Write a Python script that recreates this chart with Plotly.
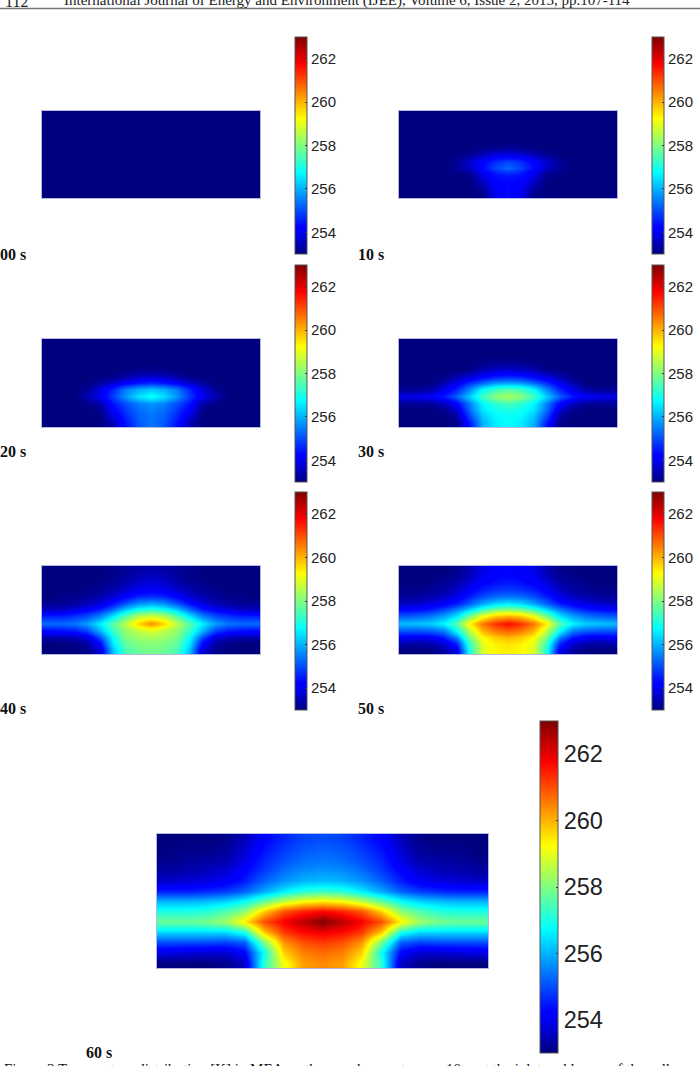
import plotly.graph_objects as go

# Temperature [K] on the membrane plane; each row runs from the centre column
# outwards and the field is mirrored about the centre. Row 0 is the top edge.
T_00S = [[253.0] * 9 for _ in range(13)]
T_10S = [
    [253, 253, 253, 253, 253, 253, 253, 253, 253],
    [253, 253, 253, 253, 253, 253, 253, 253, 253],
    [253, 253, 253, 253, 253, 253, 253, 253, 253],
    [253, 253, 253, 253, 253, 253, 253, 253, 253],
    [253, 253, 253, 253, 253, 253, 253, 253, 253],
    [253.2, 253.1, 253.05, 253, 253, 253, 253, 253, 253],
    [253.9, 253.8, 253.5, 253.2, 253, 253, 253, 253, 253],
    [254.9, 254.7, 254.2, 253.7, 253.2, 253, 253, 253, 253],
    [255.3, 254.9, 254.3, 253.6, 253.2, 253, 253, 253, 253],
    [254.5, 254.4, 253.9, 253.1, 253, 253, 253, 253, 253],
    [254.3, 254.2, 253.6, 253, 253, 253, 253, 253, 253],
    [254.3, 254.1, 253.3, 253, 253, 253, 253, 253, 253],
    [254.3, 254, 253.1, 253, 253, 253, 253, 253, 253],
]
T_20S = [
    [253, 253, 253, 253, 253, 253, 253, 253, 253],
    [253, 253, 253, 253, 253, 253, 253, 253, 253],
    [253, 253, 253, 253, 253, 253, 253, 253, 253],
    [253, 253, 253, 253, 253, 253, 253, 253, 253],
    [253.1, 253.1, 253, 253, 253, 253, 253, 253, 253],
    [253.7, 253.6, 253.3, 253.1, 253, 253, 253, 253, 253],
    [254.7, 254.5, 254.2, 253.7, 253.3, 253, 253, 253, 253],
    [256.2, 256, 255.5, 254.6, 253.8, 253.2, 253, 253, 253],
    [256.9, 256.5, 255.7, 254.8, 254, 253.4, 253, 253, 253],
    [255.7, 255.5, 255, 254.4, 253.3, 253.05, 253, 253, 253],
    [255.5, 255.3, 254.8, 254.1, 253.1, 253, 253, 253, 253],
    [255.4, 255.2, 254.6, 253.8, 253, 253, 253, 253, 253],
    [255.4, 255.1, 254.4, 253.4, 253, 253, 253, 253, 253],
]
T_30S = [
    [253, 253, 253, 253, 253, 253, 253, 253, 253],
    [253, 253, 253, 253, 253, 253, 253, 253, 253],
    [253, 253, 253, 253, 253, 253, 253, 253, 253],
    [253.2, 253.15, 253.1, 253, 253, 253, 253, 253, 253],
    [253.7, 253.6, 253.4, 253.1, 253, 253, 253, 253, 253],
    [254.6, 254.5, 254.2, 253.8, 253.4, 253.1, 253, 253, 253],
    [255.9, 255.8, 255.3, 254.7, 254, 253.4, 253, 253, 253],
    [257.6, 257.4, 256.8, 255.6, 254.6, 253.9, 253.4, 253.2, 253.2],
    [258.4, 258.1, 257.4, 256.3, 255.2, 254.5, 254.1, 254, 253.9],
    [257.4, 257.2, 256.7, 255.5, 254.2, 253.5, 253.2, 253.2, 253.2],
    [257, 256.9, 256.5, 255.3, 253.7, 253.1, 253, 253, 253],
    [256.8, 256.7, 256.2, 254.9, 253.3, 253, 253, 253, 253],
    [256.8, 256.6, 256, 254.4, 253.1, 253, 253, 253, 253],
]
T_40S = [
    [253.4, 253.3, 253.2, 253.1, 253, 253, 253, 253, 253],
    [253.6, 253.5, 253.3, 253.1, 253, 253, 253, 253, 253],
    [253.8, 253.7, 253.4, 253.2, 253.1, 253, 253, 253, 253],
    [254.1, 254, 253.7, 253.4, 253.2, 253.1, 253, 253, 253],
    [254.7, 254.6, 254.2, 253.7, 253.4, 253.2, 253.1, 253.1, 253],
    [255.9, 255.7, 255.1, 254.4, 253.8, 253.5, 253.3, 253.2, 253.2],
    [257.3, 257.1, 256.4, 255.4, 254.6, 254.2, 253.9, 253.7, 253.6],
    [258.9, 258.6, 257.7, 256.6, 255.6, 255, 254.8, 254.6, 254.6],
    [260.4, 259.7, 258.6, 257.6, 256.6, 255.8, 255.4, 255.3, 255.3],
    [258.9, 258.6, 258.2, 257.3, 256, 254.9, 254.5, 254.4, 254.3],
    [258.4, 258.3, 258, 256.8, 255, 253.8, 253.5, 253.4, 253.4],
    [258.1, 258, 257.7, 256.5, 254.2, 253.3, 253.1, 253, 253],
    [257.9, 257.8, 257.5, 256.1, 253.7, 253.1, 253, 253, 253],
]
T_50S = [
    [254.2, 254.1, 253.9, 253.4, 253.1, 253, 253, 253, 253],
    [254.3, 254.2, 254, 253.6, 253.2, 253.1, 253, 253, 253],
    [254.5, 254.4, 254.2, 253.8, 253.4, 253.2, 253.1, 253, 253],
    [254.8, 254.7, 254.5, 254.1, 253.6, 253.3, 253.2, 253.1, 253.1],
    [255.4, 255.3, 255, 254.5, 253.9, 253.6, 253.4, 253.3, 253.2],
    [256.6, 256.4, 255.9, 255.2, 254.5, 254.1, 253.9, 253.7, 253.6],
    [258.3, 258.1, 257.5, 256.5, 255.6, 255, 254.6, 254.4, 254.3],
    [260.1, 259.9, 259.2, 258, 256.6, 255.9, 255.5, 255.3, 255.2],
    [261.7, 261.3, 260.6, 259.4, 257.6, 256.7, 256.3, 256.2, 256.1],
    [260.8, 260.6, 260, 258.6, 256.8, 255.5, 255.2, 255.1, 255.1],
    [260, 259.8, 259.3, 258, 255.6, 254.5, 254.1, 254, 254.1],
    [259.5, 259.4, 259, 257.3, 254.6, 253.7, 253.4, 253.3, 253.4],
    [259.4, 259.3, 258.9, 257, 253.9, 253.3, 253, 253, 253],
]
T_60S = [
    [255, 254.9, 254.6, 254.2, 253.5, 253.1, 253, 253, 253],
    [255.2, 255.1, 254.8, 254.4, 253.7, 253.2, 253.1, 253.1, 253],
    [255.4, 255.3, 255, 254.6, 253.9, 253.4, 253.3, 253.2, 253.1],
    [255.7, 255.6, 255.3, 254.8, 254.2, 253.7, 253.5, 253.4, 253.3],
    [256.1, 256, 255.7, 255.2, 254.5, 254, 253.8, 253.7, 253.6],
    [257.3, 257.1, 256.6, 255.9, 255.2, 254.8, 254.6, 254.5, 254.5],
    [259.4, 259.2, 258.6, 257.7, 256.8, 256.3, 256.1, 256, 256],
    [261.7, 261.4, 260.9, 259.7, 258.1, 257.5, 257.1, 257, 257],
    [263, 262.4, 261.8, 261, 259.4, 258.3, 257.9, 257.8, 257.8],
    [261.9, 261.7, 261.2, 259.8, 257, 256.4, 256.4, 256.4, 256.4],
    [261.2, 261, 260.3, 258, 255.2, 254.9, 255, 255, 255],
    [260.7, 260.5, 259.7, 256.9, 254.2, 253.7, 253.7, 253.8, 253.9],
    [260.4, 260.2, 259.1, 257.2, 253.6, 253.1, 253, 253, 253],
]

TIME_LABELS = ["00 s", "10 s", "20 s", "30 s", "40 s", "50 s", "60 s"]
FIELDS = [T_00S, T_10S, T_20S, T_30S, T_40S, T_50S, T_60S]
BAR_TICKS = [254, 256, 258, 260, 262]

HEADER_PAGE = "112"
HEADER_TITLE = "International Journal of Energy and Environment (IJEE), Volume 6, Issue 2, 2015, pp.107-114"
CAPTION = ("Figure 3 Temperature distribution [K] in MEA on the membrane at every 10 s, "
           "at the inlet and layers of the cell")

W, H = 700, 1066

# Page layout in pixels: heatmap box, colour bar box, time label anchor, bar font size.
PANELS = [
    dict(box=(42, 260, 111, 198), bar=(295, 307, 37, 254), label=(0, 254), font=15),
    dict(box=(399, 617, 111, 198), bar=(652, 664, 37, 254), label=(358, 254), font=15),
    dict(box=(42, 260, 339, 427), bar=(295, 307, 265, 482), label=(0, 452), font=15),
    dict(box=(399, 617, 339, 427), bar=(652, 664, 265, 482), label=(358, 452), font=15),
    dict(box=(42, 260, 566, 654), bar=(295, 307, 492, 710), label=(0, 708), font=15),
    dict(box=(399, 617, 566, 654), bar=(652, 664, 492, 710), label=(358, 708), font=15),
    dict(box=(157, 488, 834, 968), bar=(540, 558, 721, 1053), label=(86, 1052), font=23.5),
]

JET = [
    [0.0, "#00007f"], [0.11, "#0000ff"], [0.125, "#0000ff"], [0.375, "#00ffff"],
    [0.625, "#ffff00"], [0.875, "#ff0000"], [1.0, "#7f0000"],
]


def mirrored(rows):
    return [row[:0:-1] + row for row in rows]


def px(x):
    return x / W


def py(y):
    return 1 - y / H


fig = go.Figure()
annotations = []
layout_axes = {}

for i, (field, panel, label) in enumerate(zip(FIELDS, PANELS, TIME_LABELS), start=1):
    x0, x1, y0, y1 = panel["box"]
    bx0, bx1, by0, by1 = panel["bar"]
    fig.add_trace(go.Heatmap(
        z=mirrored(field),
        zmin=253, zmax=263,
        zsmooth="best",
        colorscale=JET,
        xaxis=f"x{i}", yaxis=f"y{i}",
        hoverinfo="skip",
        colorbar=dict(
            x=px(bx0), xanchor="left", xpad=0,
            y=py(by0), yanchor="top", ypad=0,
            len=by1 - by0, lenmode="pixels",
            thickness=bx1 - bx0, thicknessmode="pixels",
            tickvals=BAR_TICKS,
            ticks="inside", ticklen=2, tickcolor="#333333", tickwidth=1,
            tickfont=dict(family="Liberation Sans", size=panel["font"], color="#222222"),
            outlinecolor="#555555", outlinewidth=1,
            borderwidth=0,
        ),
    ))
    layout_axes[f"xaxis{i}"] = dict(
        domain=[px(x0), px(x1)], anchor=f"y{i}",
        showticklabels=False, ticks="", showgrid=False, zeroline=False,
        showline=True, mirror=True, linecolor="#b4b8e0", linewidth=1,
    )
    layout_axes[f"yaxis{i}"] = dict(
        domain=[py(y1), py(y0)], anchor=f"x{i}", autorange="reversed",
        showticklabels=False, ticks="", showgrid=False, zeroline=False,
        showline=True, mirror=True, linecolor="#b4b8e0", linewidth=1,
    )
    lx, ly = panel["label"]
    annotations.append(dict(
        text=f"<b>{label}</b>", x=px(lx), y=py(ly), xref="paper", yref="paper",
        xanchor="left", yanchor="middle", showarrow=False, xshift=-2,
        font=dict(family="Liberation Serif", size=16, color="#111111"),
    ))

# Running header and caption, both cut by the page edge.
annotations += [
    dict(text=HEADER_PAGE, x=px(3), y=py(1), xref="paper", yref="paper", xanchor="left",
         yanchor="middle", showarrow=False,
         font=dict(family="Liberation Serif", size=16, color="#222222")),
    dict(text=HEADER_TITLE, x=px(62), y=py(0), xref="paper", yref="paper", xanchor="left",
         yanchor="middle", showarrow=False,
         font=dict(family="Liberation Serif", size=15, color="#222222")),
    dict(text=CAPTION, x=px(2), y=py(1069), xref="paper", yref="paper", xanchor="left",
         yanchor="middle", showarrow=False,
         font=dict(family="Liberation Serif", size=15, color="#111111")),
]

fig.update_layout(
    width=W, height=H,
    margin=dict(l=0, r=0, t=0, b=0),
    paper_bgcolor="white", plot_bgcolor="white",
    annotations=annotations,
    shapes=[dict(type="line", xref="paper", yref="paper", x0=0, x1=1, y0=py(8.5), y1=py(8.5),
                 line=dict(color="#777777", width=1.5))],
    **layout_axes,
)

fig.write_html("out.html", config=dict(displayModeBar=False))
